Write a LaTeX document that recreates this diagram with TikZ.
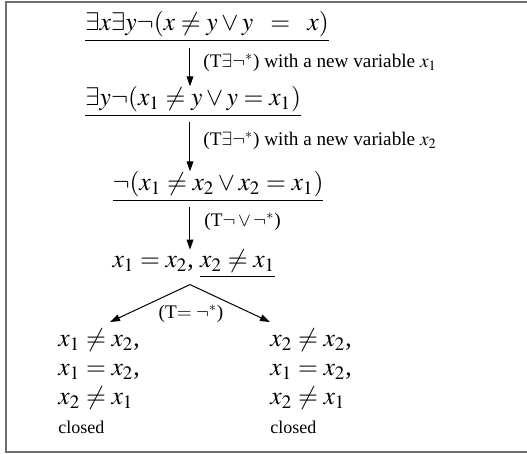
\documentclass[tikz,border=0pt]{standalone}
\usepackage{mathptmx}
\usepackage{fontspec}
\setmainfont{Liberation Serif}
\usetikzlibrary{arrows.meta, positioning, calc}
\definecolor{cframe}{HTML}{6E6E6E}
\newcommand{\fmlsize}{\fontsize{12.8}{14.5}\selectfont}
\newcommand{\rulesize}{\fontsize{9.6}{11}\selectfont}
\tikzset{
  every picture/.style={line width=0.5pt},
  formula/.style={anchor=base west, inner sep=0pt, font=\fmlsize},
  rulelabel/.style={anchor=west, inner sep=0pt, font=\rulesize},
  leaf/.style={anchor=north west, align=left, inner sep=0pt, font=\fmlsize},
  arrow/.style={-{Triangle[length=5pt, width=3.4pt]}},
}

\begin{document}
\begin{tikzpicture}[x=0.5pt, y=-0.5pt]
  \useasboundingbox (0,0) rectangle (527,454);
  \draw[cframe, line width=0.8pt] (527,2) -- (6,2) -- (6,452) -- (527,452);
  \coordinate (axis) at (190,0);
  % trunk
  \node[formula] (f1) at (85,31) {$\underline{\exists x\exists y\neg(x\neq y\vee y\;\;=\;\;x)}$};
  \node[formula] (f2) at (85,106) {$\underline{\exists y\neg(x_1\neq y\vee y=x_1)}$};
  \node[formula] (f3) at (112,191) {$\underline{\neg(x_1\neq x_2\vee x_2=x_1)}$};
  \node[formula] (f4) at (112,268) {$x_1=x_2$, $\underline{x_2\neq x_1}$};
  \draw[arrow, shorten <=2.5pt] (f1.south -| axis) -- (f2.north -| axis);
  \draw[arrow, shorten <=2pt] (f2.south -| axis) -- (f3.north -| axis);
  \draw[arrow, shorten <=2pt] (f3.south -| axis) -- (f4.north -| axis);
  \node[rulelabel] (r1) at (203,63) {(T$\exists\neg^*$) with a new variable $x_1$};
  \node[rulelabel] (r2) at (203,141) {(T$\exists\neg^*$) with a new variable $x_2$};
  \node[rulelabel] (r3) at (204,222) {(T$\neg\vee\neg^*$)};
  % branching
  \coordinate (apex) at ($(f4.south -| axis)+(0,6)$);
  \node[leaf] (left) at (58,328) {$x_1\neq x_2$,\\ $x_1=x_2$,\\ $x_2\neq x_1$\\ {\small closed}};
  \node[leaf] (right) at (270,328) {$x_2\neq x_2$,\\ $x_1=x_2$,\\ $x_2\neq x_1$\\ {\small closed}};
  \coordinate (tipl) at (110,322);
  \coordinate (tipr) at (270,322);
  \draw[arrow] (apex) -- (tipl);
  \draw[arrow] (apex) -- (tipr);
  \node[font=\rulesize, inner sep=0pt] (r4) at (191,314) {(T$=\neg^*$)};
\end{tikzpicture}
\end{document}
